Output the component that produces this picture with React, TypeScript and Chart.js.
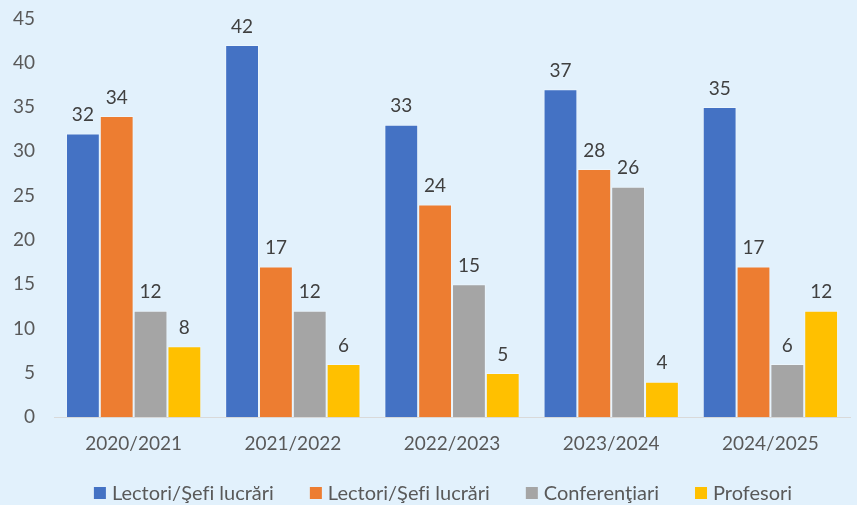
import React, { useEffect, useRef } from "react";
import { Chart, registerables } from "chart.js";

Chart.register(...registerables);

const categories = ["2020/2021", "2021/2022", "2022/2023", "2023/2024", "2024/2025"];
const seriesLabels = ["Lectori/Şef\u200Ci lucrări", "Lectori/Şef\u200Ci lucrări", "Conferenţiari", "Profesori"];
const lectori1 = [32, 42, 33, 37, 35];
const lectori2 = [34, 17, 24, 28, 17];
const conferentiari = [12, 12, 15, 26, 6];
const profesori = [8, 6, 5, 4, 12];
const yTicks = [0, 5, 10, 15, 20, 25, 30, 35, 40, 45];
const colors = ["#4472C4", "#ED7D31", "#A5A5A5", "#FFC000"];

const FONT = "Lato, 'Open Sans', sans-serif";

const dataLabelPlugin = {
  id: "dataLabels",
  afterDatasetsDraw(chart: any) {
    const ctx = chart.ctx;
    ctx.save();
    ctx.font = `19px ${FONT}`;
    ctx.fillStyle = "#404040";
    ctx.textAlign = "center";
    ctx.textBaseline = "bottom";
    chart.data.datasets.forEach((ds: any, i: number) => {
      const meta = chart.getDatasetMeta(i);
      meta.data.forEach((bar: any, j: number) => {
        ctx.fillText(String(ds.data[j]), bar.x, bar.y - 9);
      });
    });
    ctx.restore();
  },
};

const legendPlugin = {
  id: "customLegend",
  afterDraw(chart: any) {
    const ctx = chart.ctx;
    const area = chart.chartArea;
    ctx.save();
    ctx.font = `20px ${FONT}`;
    ctx.textBaseline = "middle";
    ctx.textAlign = "left";
    const box = 12;
    const gap = 6;
    const spacing = 36;
    const widths = chart.data.datasets.map((ds: any) => ctx.measureText(ds.label).width);
    const total =
      widths.reduce((a: number, w: number) => a + box + gap + w, 0) + spacing * (widths.length - 1);
    let x = (area.left + area.right) / 2 - total / 2 - 9;
    const y = 493;
    chart.data.datasets.forEach((ds: any, i: number) => {
      ctx.fillStyle = ds.backgroundColor;
      ctx.fillRect(x, y - box / 2, box, box);
      ctx.fillStyle = "#595959";
      ctx.fillText(ds.label, x + box + gap, y + 1);
      x += box + gap + widths[i] + spacing;
    });
    ctx.restore();
  },
};

export default function App() {
  const ref = useRef<HTMLCanvasElement | null>(null);
  useEffect(() => {
    if (!ref.current) return;
    const allSeries = [lectori1, lectori2, conferentiari, profesori];
    const chart = new Chart(ref.current, {
      type: "bar",
      data: {
        labels: categories,
        datasets: allSeries.map((d, i) => ({
          label: seriesLabels[i],
          data: d,
          backgroundColor: colors[i],
          borderColor: "rgba(255,255,255,0.35)",
          borderWidth: 1,
          categoryPercentage: 0.85,
          barPercentage: 1.0,
        })),
      },
      options: {
        animation: false,
        responsive: true,
        maintainAspectRatio: false,
        layout: { padding: { top: 0, right: 7, left: 6, bottom: 50 } },
        scales: {
          x: {
            grid: { display: false, drawTicks: true, tickLength: 15 },
            border: { display: true, color: "#D9D9D9", width: 1 },
            ticks: { color: "#595959", font: { family: FONT, size: 19 }, padding: 0 },
          },
          y: {
            min: 0,
            max: 45,
            afterBuildTicks: (axis: any) => {
              axis.ticks = yTicks.map((v) => ({ value: v }));
            },
            grid: { display: false, drawTicks: true, tickLength: 12 },
            border: { display: false },
            ticks: { color: "#595959", font: { family: FONT, size: 19 }, padding: 7 },
          },
        },
        plugins: {
          legend: { display: false },
          tooltip: { enabled: false },
        },
      },
      plugins: [dataLabelPlugin, legendPlugin],
    });
    return () => chart.destroy();
  }, []);
  return (
    <div
      style={{
        position: "fixed",
        left: 0,
        top: 0,
        width: 857,
        height: 505,
        background: "#E2F1FC",
      }}
    >
      <canvas ref={ref} />
    </div>
  );
}
